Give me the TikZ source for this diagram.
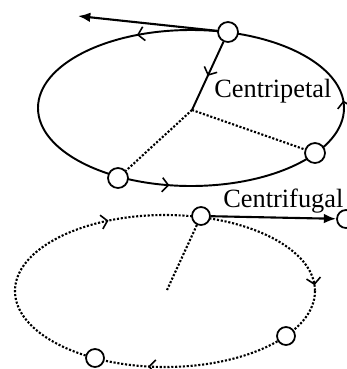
\documentclass[tikz,border=0pt]{standalone}
\usepackage{fontspec}
\setmainfont{Liberation Serif}
\usetikzlibrary{arrows.meta}
\usetikzlibrary{decorations.markings}
\usetikzlibrary{backgrounds}
\tikzset{mass/.style={circle, draw, fill=white, line width=1pt, inner sep=0pt, minimum size=0.4cm}}
\tikzset{orbit/.style={line width=1.1pt}}
\tikzset{track/.style={line width=1.2pt, densely dotted}}
\tikzset{force/.style={line width=1.2pt, -{Latex[length=7pt,width=5.5pt]}}}
\tikzset{label/.style={font=\fontsize{15}{18}\selectfont, inner sep=0pt}}
\newcommand{\bartip}{\arrow{Straight Barb[length=3.5pt,width=8pt,line width=0.9pt]}}
\newcommand{\bartipback}{\arrowreversed{Straight Barb[length=3.5pt,width=8pt,line width=0.9pt]}}

\begin{document}
\begin{tikzpicture}[x=0.02cm, y=-0.02cm]
    \useasboundingbox (0,0) rectangle (346,369);
    %Upper orbit
    \node[mass] (m1) at (228,32) {};
    \node[mass] (m2) at (118,178) {};
    \node[mass] (m3) at (315,153) {};
    \coordinate (o1) at (192,110);
    \coordinate (t1) at (78,16);
    \begin{scope}[on background layer]
      \draw[orbit, postaction={decorate}, decoration={markings,
          mark=at position 0.279 with {\bartipback},
          mark=at position 0.677 with {\bartipback},
          mark=at position 0.99 with {\bartipback}}]
        (191,108) ellipse [x radius=153, y radius=78];
    \end{scope}
    \draw[force] (m1) -- (t1);
    \draw[orbit, postaction={decorate}, decoration={markings,
        mark=at position 0.5 with {\bartip}}] (m1) -- (o1);
    \draw[track] (o1) -- (m2);
    \draw[track] (o1) -- (m3);
    \node[label, anchor=base west] (cp) at (214,97) {Centripetal};
    %Lower orbit
    \node[mass, minimum size=0.36cm] (n1) at (201,216) {};
    \node[mass, minimum size=0.36cm] (n2) at (95,358) {};
    \node[mass, minimum size=0.36cm] (n3) at (286,336) {};
    \node[mass, minimum size=0.36cm] (n4) at (346,219) {};
    \coordinate (o2) at (167,290);
    \begin{scope}[on background layer]
      \draw[track, postaction={decorate}, decoration={markings,
          mark=at position 0.273 with {\bartip},
          mark=at position 0.672 with {\bartip},
          mark=at position 0.992 with {\bartip}}]
        (165,291) ellipse [x radius=150, y radius=76];
    \end{scope}
    \draw[force] (n1) -- (n4);
    \draw[track] (n1) -- (o2);
    \node[label, anchor=base west] (cf) at (223,207) {Centrifugal};
\end{tikzpicture}
\end{document}
